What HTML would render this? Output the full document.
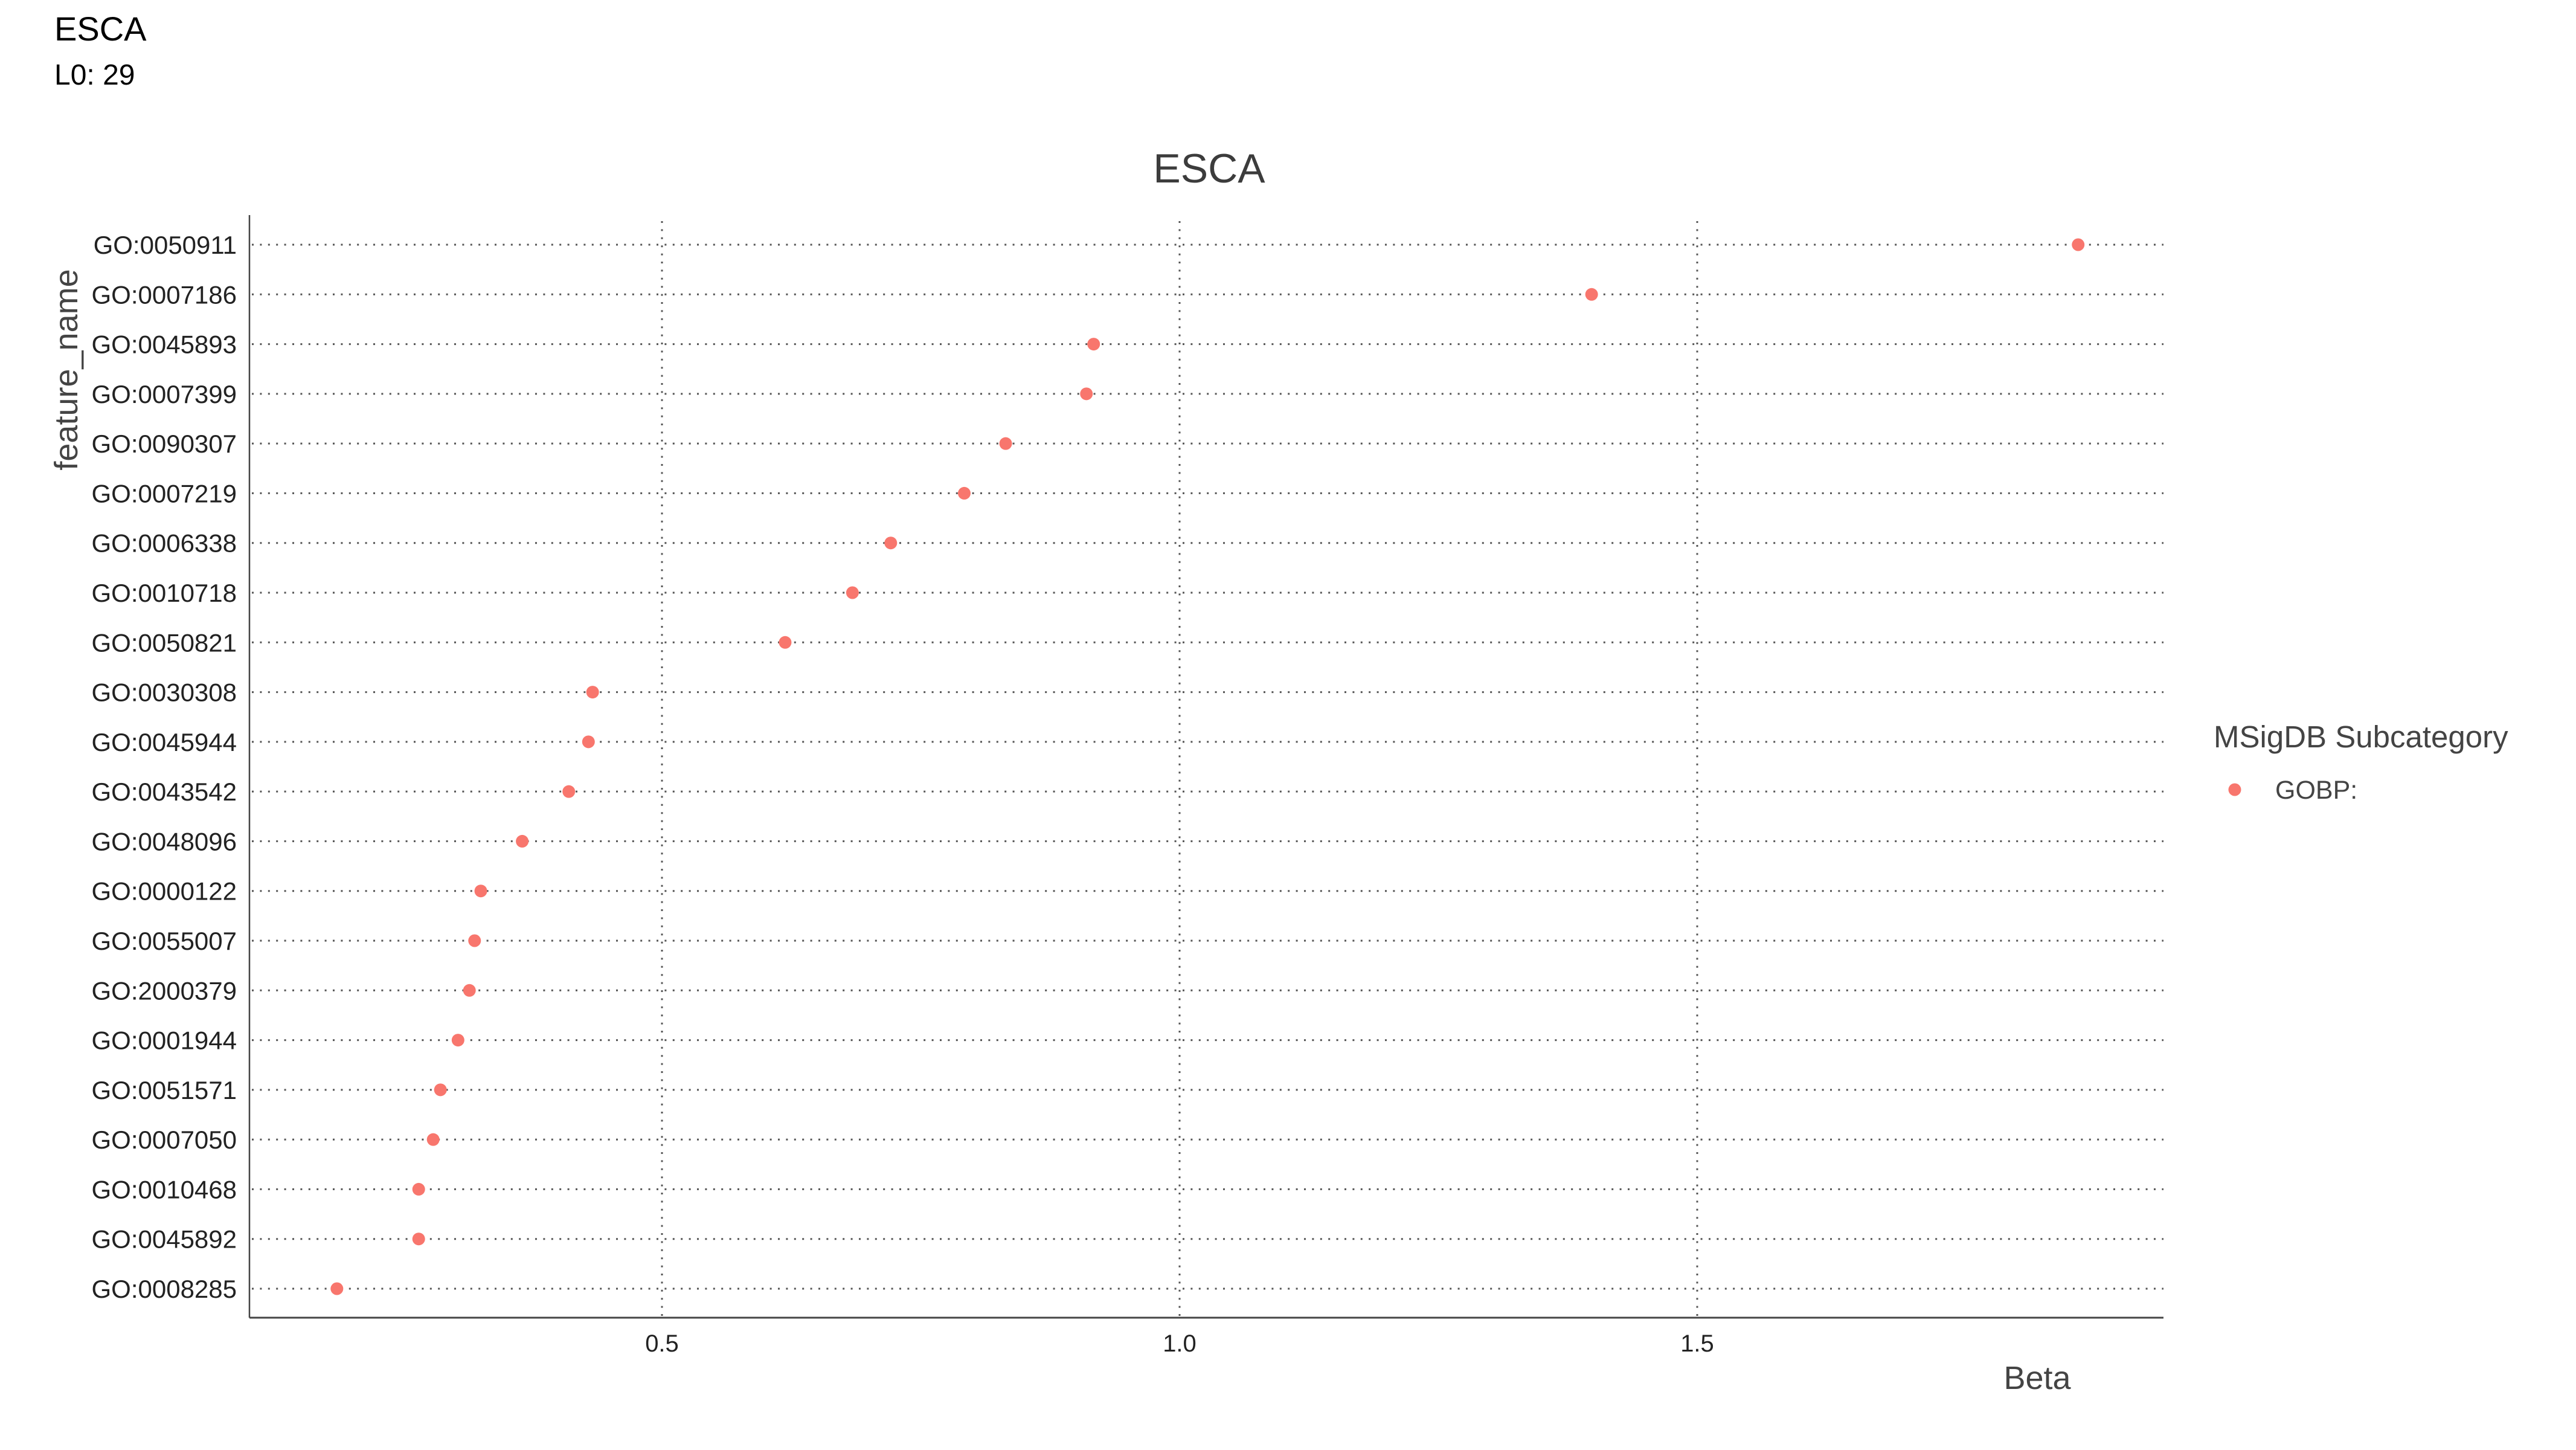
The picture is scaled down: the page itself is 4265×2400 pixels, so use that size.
<!DOCTYPE html>
<html><head><meta charset="utf-8">
<style>
html,body{margin:0;padding:0;background:#fff;}
svg{display:block;font-family:"Liberation Sans",sans-serif;}
</style></head>
<body>
<svg id="chart" width="4265" height="2400" viewBox="0 0 4265 2400" xmlns="http://www.w3.org/2000/svg">
<rect width="4265" height="2400" fill="#fff"/>
<text x="90" y="67" font-size="56" fill="#000">ESCA</text>
<text x="90" y="140" font-size="48" fill="#000">L0: 29</text>
<text x="2002" y="302" font-size="68" fill="#3c3c3c" text-anchor="middle">ESCA</text>
<g id="grid"></g>
<g id="yaxis"></g>
<g id="xaxis"></g>
<g id="points"></g>
<text transform="translate(128,612) rotate(-90)" font-size="54" fill="#444" text-anchor="middle">feature_name</text>
<text x="3373" y="2299" font-size="54" fill="#444" text-anchor="middle">Beta</text>
<g>
<text x="3665" y="1237" font-size="51" fill="#444">MSigDB Subcategory</text>
<circle cx="3700" cy="1307" r="10.5" fill="#F8766D"/>
<text x="3767" y="1322" font-size="43" fill="#444">GOBP:</text>
</g>
</svg>
<script>
const categories = ["GO:0050911","GO:0007186","GO:0045893","GO:0007399","GO:0090307","GO:0007219","GO:0006338","GO:0010718","GO:0050821","GO:0030308","GO:0045944","GO:0043542","GO:0048096","GO:0000122","GO:0055007","GO:2000379","GO:0001944","GO:0051571","GO:0007050","GO:0010468","GO:0045892","GO:0008285"];
const betaValues = [1.868,1.398,0.917,0.910,0.832,0.792,0.721,0.684,0.619,0.433,0.429,0.410,0.365,0.325,0.319,0.314,0.303,0.286,0.279,0.265,0.265,0.186];
const xTicks = [0.5,1.0,1.5];
const xTickLabels = ["0.5","1.0","1.5"];

const NS="http://www.w3.org/2000/svg";
const plotL=413, plotR=3582, plotT=356, plotB=2181;
const x0px=239, pxPerUnit=1714;
const rowTop=405, rowBottom=2133;
function xScale(v){return x0px+v*pxPerUnit;}
function yScale(i){return rowTop+i*(rowBottom-rowTop)/(categories.length-1);}
function mk(tag,attrs,parent){const e=document.createElementNS(NS,tag);for(const k in attrs)e.setAttribute(k,attrs[k]);parent.appendChild(e);return e;}

const grid=document.getElementById('grid'), yaxis=document.getElementById('yaxis'), xaxis=document.getElementById('xaxis'), pts=document.getElementById('points');

xTicks.forEach((t,i)=>{
  const l=mk('line',{x1:xScale(t),x2:xScale(t),y1:366,y2:plotB,stroke:'#555','stroke-width':3,'stroke-dasharray':'3 10.4'},grid);
  
  
  const tx=mk('text',{x:xScale(t),y:2237,'font-size':40,fill:'#222','text-anchor':'middle'},xaxis);
  tx.textContent=xTickLabels[i];
  
  
});
categories.forEach((c,i)=>{
  const y=yScale(i);
  const l=mk('line',{x1:plotL+4,x2:plotR,y1:y,y2:y,stroke:'#555','stroke-width':3,'stroke-dasharray':'3 10.4'},grid);
  
  
  const tx=mk('text',{x:392,y:y+15,'font-size':42,fill:'#222','text-anchor':'end'},yaxis);
  tx.textContent=c;
  
  
  const p=mk('circle',{cx:xScale(betaValues[i]),cy:y,r:10.5,fill:'#F8766D'},pts);
  
  
});
const ya=mk('line',{x1:plotL,x2:plotL,y1:plotT,y2:plotB,stroke:'#444','stroke-width':2.5},yaxis);


const xa=mk('line',{x1:plotL,x2:plotR,y1:plotB,y2:plotB,stroke:'#444','stroke-width':3},xaxis);


</script>
</body></html>
